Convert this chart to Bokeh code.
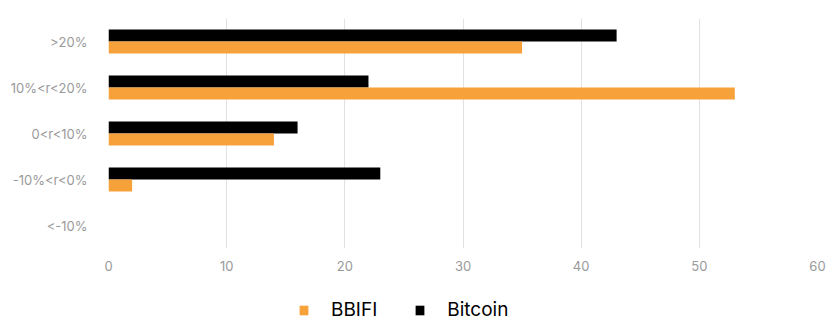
from bokeh.plotting import figure
from bokeh.layouts import column
from bokeh.models import FactorRange, ColumnDataSource, Legend, LegendItem, FixedTicker
from bokeh.transform import dodge
from bokeh.embed import file_html
from bokeh.resources import INLINE

categories = ["<-10%", "-10%<r<0%", "0<r<10%", "10%<r<20%", ">20%"]
bbifi = [0, 2, 14, 53, 35]
bitcoin = [0, 23, 16, 22, 43]
x_ticks = [0, 10, 20, 30, 40, 50, 60]
series_names = ["BBIFI", "Bitcoin"]
series_colors = ["#F7A13B", "#000000"]

source = ColumnDataSource(dict(cat=categories, bbifi=bbifi, bitcoin=bitcoin))

p = figure(width=826, height=290, y_range=FactorRange(factors=categories),
           x_range=(0, 60), output_backend="svg", toolbar_location=None,
           min_border_left=108, min_border_right=9, min_border_top=18,
           min_border_bottom=42)
p.outline_line_color = None

p.hbar(y=dodge("cat", 0.13, range=p.y_range), right="bitcoin", left=0,
       height=0.26, source=source, color=series_colors[1], line_color=None)
p.hbar(y=dodge("cat", -0.13, range=p.y_range), right="bbifi", left=0,
       height=0.26, source=source, color=series_colors[0], line_color=None)

p.ygrid.grid_line_color = None
p.xgrid.grid_line_color = "#e2e2e2"
p.xgrid.grid_line_width = 1
p.xaxis.ticker = FixedTicker(ticks=x_ticks)

for ax in (p.xaxis[0], p.yaxis[0]):
    ax.axis_line_color = None
    ax.major_tick_line_color = None
    ax.minor_tick_line_color = None
    ax.major_label_text_color = "#999999"
    ax.major_label_text_font = "Inter"
    ax.major_label_text_font_size = "13px"
p.xaxis.major_label_standoff = 6
p.yaxis.major_label_standoff = 15

# legend strip below the chart
lg = figure(width=826, height=31, x_range=(0, 1), y_range=(0, 1),
            output_backend="svg", toolbar_location=None,
            x_axis_location=None, y_axis_location=None, min_border=0)
lg.outline_line_color = None
lg.grid.visible = False
hidden = ColumnDataSource(dict(y=[-10], right=[0]))
items = []
for name, col in zip(series_names, series_colors):
    r = lg.hbar(y="y", right="right", left=0, height=1, source=hidden,
                color=col, line_color=None)
    items.append(LegendItem(label=name, renderers=[r]))

legend = Legend(items=items, orientation="horizontal", location=(190, 0),
                glyph_width=11, glyph_height=12, label_standoff=22, spacing=37,
                label_text_font="Inter", label_text_font_size="19px",
                label_text_color="#000000", border_line_color=None,
                background_fill_alpha=0, padding=0, margin=0)
lg.add_layout(legend)

layout = column(p, lg, spacing=0)
open("out.html", "w").write(file_html(layout, INLINE))
